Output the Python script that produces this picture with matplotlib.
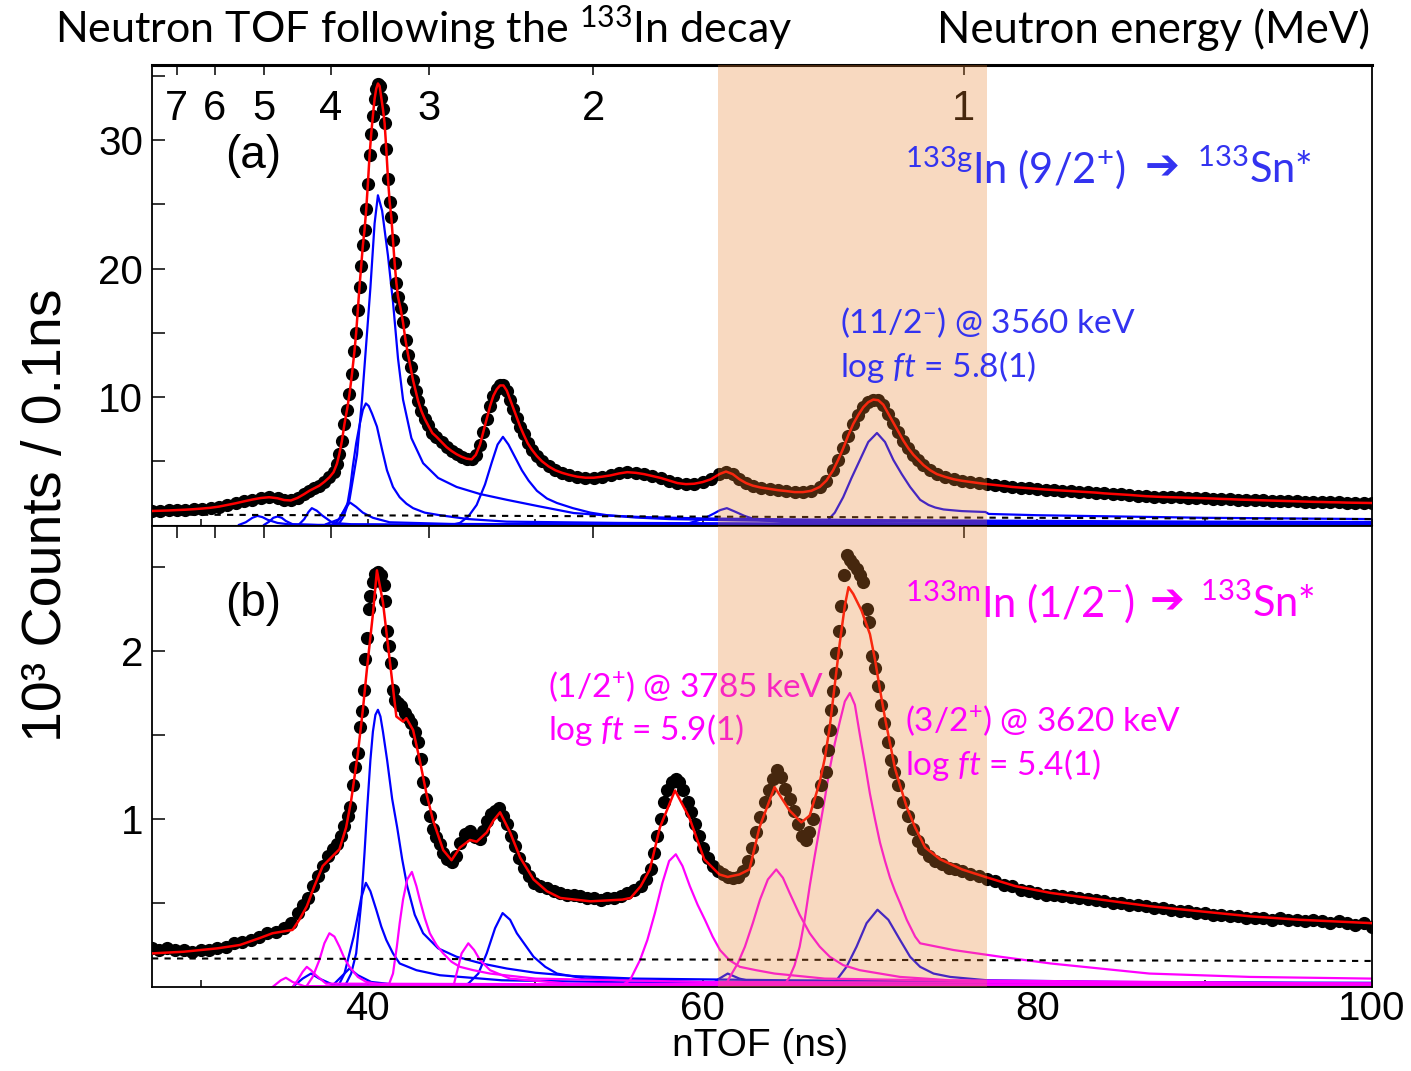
import numpy as np
import matplotlib
matplotlib.use("Agg")
import matplotlib.pyplot as plt
from matplotlib.ticker import NullLocator, NullFormatter

W, H = 1411, 1071

plt.rcParams['font.family'] = ['Liberation Sans', 'DejaVu Sans']
plt.rcParams['mathtext.fontset'] = 'custom'
plt.rcParams['mathtext.rm'] = 'Lato'
plt.rcParams['mathtext.it'] = 'Lato:italic'
plt.rcParams['mathtext.fallback'] = 'stixsans'

# ---------------- values ----------------
tof_1mev = 75.6                 # ns, flight time of a 1 MeV neutron
energy_ticks = [7, 6, 5, 4, 3, 2, 1]
shade_lo, shade_hi = 60.9, 77.0

# panel (a): 133gIn, 10^3 counts / 0.1 ns
a_tof = [27.1, 27.6, 28.1, 28.6, 29.1, 29.6, 30.1, 30.6, 31.1, 31.6, 32.1, 32.6, 33.1, 33.6,
         34.1, 34.6, 35.0, 35.4, 35.8, 36.2, 36.5, 36.8, 37.1, 37.4, 37.7, 37.95, 38.15, 38.3,
         38.45, 38.6, 38.75, 38.9, 39.05, 39.2, 39.3, 39.4, 39.5, 39.6, 39.7, 39.8, 39.9, 40.0,
         40.1, 40.2, 40.3, 40.4, 40.5, 40.6, 40.7, 40.8, 40.9, 41.0, 41.1, 41.2, 41.3, 41.4,
         41.5, 41.6, 41.7, 41.8, 41.95, 42.1, 42.25, 42.4, 42.55, 42.7, 42.85, 43.0, 43.2, 43.4,
         43.6, 43.85, 44.1, 44.4, 44.7, 45.0, 45.3, 45.6, 45.9, 46.2, 46.45, 46.7, 46.9, 47.1,
         47.3, 47.5, 47.7, 47.9, 48.1, 48.3, 48.5, 48.7, 48.9, 49.1, 49.3, 49.55, 49.8, 50.1,
         50.4, 50.8, 51.2, 51.6, 52.0, 52.5, 53.0, 53.5, 54.0, 54.5, 55.0, 55.5, 56.0, 56.5,
         57.0, 57.5, 58.0, 58.5, 59.0, 59.5, 60.0, 60.5, 61.0, 61.4, 61.8, 62.2, 62.6, 63.0,
         63.5, 64.0, 64.5, 65.0, 65.5, 66.0, 66.5, 67.0, 67.4, 67.8, 68.1, 68.4, 68.7, 69.0,
         69.3, 69.6, 69.9, 70.2, 70.5, 70.8, 71.1, 71.4, 71.7, 72.0, 72.3, 72.6, 72.9, 73.2,
         73.6, 74.0, 74.5, 75.0, 75.5, 76.0, 76.5, 77.0, 77.5, 78.0, 78.5, 79.0, 79.5, 80.0,
         80.5, 81.0, 81.5, 82.0, 82.5, 83.0, 83.5, 84.0, 84.5, 85.0, 85.5, 86.0, 86.5, 87.0,
         87.5, 88.0, 88.5, 89.0, 89.5, 90.0, 90.5, 91.0, 91.5, 92.0, 92.5, 93.0, 93.5, 94.0,
         94.5, 95.0, 95.5, 96.0, 96.5, 97.0, 97.5, 98.0, 98.5, 99.0, 99.5, 100.0]
a_counts = [1.13, 1.15, 1.17, 1.2, 1.23, 1.27, 1.32, 1.38, 1.47, 1.6, 1.73, 1.88, 2.02, 2.14,
            2.2, 2.12, 1.98, 1.95, 2.15, 2.45, 2.7, 2.9, 3.1, 3.4, 3.75, 4.15, 4.8, 5.6,
            6.6, 7.9, 9.0, 10.2, 11.8, 13.6, 15.0, 16.8, 18.6, 20.2, 21.8, 23.0, 24.6, 26.6,
            28.8, 30.5, 31.9, 33.2, 34.0, 34.4, 34.2, 33.3, 32.4, 31.3, 29.3, 27.0, 25.2, 24.0,
            22.2, 20.4, 18.9, 17.8, 16.9, 15.8, 14.4, 13.3, 12.3, 11.3, 10.5, 9.7, 8.9, 8.3,
            7.8, 7.2, 6.9, 6.5, 6.1, 5.8, 5.55, 5.35, 5.2, 5.15, 5.5, 6.3, 7.3, 8.3,
            9.3, 10.1, 10.6, 10.9, 10.9, 10.5, 9.8, 9.1, 8.4, 7.7, 7.1, 6.4, 5.9, 5.4,
            5.0, 4.6, 4.3, 4.1, 3.95, 3.8, 3.72, 3.72, 3.8, 3.9, 4.05, 4.15, 4.1, 4.0,
            3.85, 3.7, 3.5, 3.3, 3.22, 3.25, 3.38, 3.6, 4.0, 4.2, 4.0, 3.6, 3.3, 3.1,
            2.95, 2.85, 2.75, 2.68, 2.6, 2.6, 2.7, 3.0, 3.5, 4.3, 5.1, 6.0, 7.0, 7.9,
            8.6, 9.2, 9.6, 9.8, 9.75, 9.4, 8.7, 8.0, 7.3, 6.6, 6.0, 5.5, 5.1, 4.7,
            4.3, 4.0, 3.78, 3.6, 3.48, 3.39, 3.3, 3.22, 3.15, 3.08, 3.0, 2.95, 2.9, 2.85,
            2.8, 2.76, 2.72, 2.68, 2.64, 2.6, 2.56, 2.5, 2.46, 2.42, 2.38, 2.33, 2.28, 2.25,
            2.22, 2.2, 2.18, 2.16, 2.14, 2.12, 2.1, 2.07, 2.05, 2.02, 2.0, 1.98, 1.96, 1.94,
            1.92, 1.9, 1.88, 1.86, 1.84, 1.83, 1.81, 1.8, 1.78, 1.77, 1.76, 1.75]

# fit components of panel (a), each (tof, counts)
a_blue = [
    ([37.5, 38.3, 38.9, 39.35, 39.65, 39.95, 40.15, 40.4, 40.6, 40.85, 41.2, 41.5, 41.8, 42.1,
      42.6, 43.3, 44.2, 45.3, 46.7, 48.3, 50.2, 52.3, 54.3, 56.3, 60, 65, 70, 80, 90, 100],
     [0.1, 0.5, 2.0, 5.5, 9.8, 15.0, 18.5, 23.5, 25.7, 24.5, 21.0, 17.4, 13.0, 9.8,
      6.8, 4.85, 3.7, 3.0, 2.45, 2.0, 1.5, 0.97, 0.78, 0.66, 0.55, 0.48, 0.42, 0.36, 0.3, 0.27]),
    ([38.3, 38.55, 38.75, 38.95, 39.1, 39.3, 39.5, 39.7, 39.88, 40.05, 40.25, 40.54, 40.85,
      41.14, 41.5, 41.9, 42.3, 42.7, 43.4, 44.3, 46, 48.3, 55, 70, 100],
     [0.2, 0.7, 1.45, 3.0, 4.6, 6.4, 7.8, 9.0, 9.5, 9.3, 8.7, 7.7, 5.9,
      4.3, 3.0, 2.2, 1.7, 1.35, 1.0, 0.8, 0.5, 0.3, 0.2, 0.14, 0.1]),
    ([37.9, 38.2, 38.5, 38.92, 39.3, 39.7, 40.3, 41.3, 45, 60, 100],
     [0.05, 0.35, 1.0, 1.8, 1.45, 1.0, 0.6, 0.25, 0.12, 0.08, 0.05]),
    ([35.9, 36.2, 36.45, 36.65, 36.95, 37.25, 37.9, 39, 45, 70, 100],
     [0.1, 0.5, 1.05, 1.35, 1.15, 0.8, 0.2, 0.1, 0.06, 0.04, 0.03]),
    ([32.3, 32.7, 33.1, 33.4, 33.7, 34.0, 34.6, 35.35, 37, 50, 100],
     [0.05, 0.25, 0.6, 0.75, 0.65, 0.45, 0.2, 0.08, 0.04, 0.03, 0.02]),
    ([33.8, 34.1, 34.35, 34.6, 34.85, 35.1, 35.5, 37, 60, 100],
     [0.05, 0.3, 0.6, 0.7, 0.6, 0.35, 0.1, 0.04, 0.03, 0.02]),
    ([45.0, 45.5, 46.0, 46.5, 47.0, 47.4, 47.75, 48.07, 48.4, 48.8, 49.2, 49.6, 50.1, 50.7,
      51.3, 52.25, 53.3, 54.3, 56, 58, 62, 65, 80, 100],
     [0.05, 0.2, 0.7, 1.6, 3.2, 4.9, 6.3, 6.9, 6.3, 5.3, 4.3, 3.5, 2.7, 2.1,
      1.75, 1.35, 1.0, 0.8, 0.62, 0.5, 0.4, 0.35, 0.25, 0.2]),
    ([59.0, 60.1, 60.7, 61.05, 61.45, 61.9, 62.5, 63.2, 65, 75, 100],
     [0.1, 0.55, 0.95, 1.2, 1.35, 1.1, 0.75, 0.45, 0.25, 0.12, 0.08]),
    ([66.8, 67.4, 67.9, 68.4, 68.9, 69.4, 69.9, 70.42, 70.9, 71.4, 71.9, 72.4, 73.0, 73.5,
      73.9, 74.4, 74.8, 75.5, 76.9, 77.1, 80, 85, 90, 100],
     [0.05, 0.3, 1.0, 2.2, 3.7, 5.1, 6.5, 7.2, 6.5, 5.1, 4.0, 3.0, 2.0, 1.6,
      1.4, 1.25, 1.2, 1.12, 1.05, 0.9, 0.8, 0.7, 0.6, 0.5]),
]
a_bg_tof = [27.1, 100.0]
a_bg = [0.85, 0.5]

# panel (b): 133mIn
b_tof = [27.1, 27.5, 28.0, 28.5, 29.0, 29.5, 30.0, 30.5, 31.0, 31.5, 32.0, 32.5, 33.0, 33.5,
         34.0, 34.5, 35.0, 35.4, 35.8, 36.1, 36.4, 36.7, 37.0, 37.3, 37.6, 37.9, 38.15, 38.4,
         38.6, 38.8, 38.95, 39.1, 39.25, 39.4, 39.55, 39.65, 39.75, 39.85, 39.95, 40.05, 40.15,
         40.3, 40.45, 40.6, 40.8, 40.95, 41.05, 41.12, 41.25, 41.38, 41.5, 41.65, 41.8, 42.0,
         42.2, 42.4, 42.6, 42.8, 43.0, 43.15, 43.3, 43.5, 43.7, 43.9, 44.1, 44.3, 44.5, 44.75,
         45.0, 45.25, 45.5, 45.8, 46.1, 46.4, 46.7, 46.9, 47.1, 47.35, 47.6, 47.85, 48.1, 48.3,
         48.55, 48.8, 49.05, 49.3, 49.6, 49.9, 50.3, 50.7, 51.1, 51.5, 51.9, 52.3, 52.7, 53.1,
         53.5, 53.9, 54.3, 54.7, 55.1, 55.5, 55.9, 56.3, 56.6, 56.9, 57.1, 57.3, 57.5, 57.7,
         57.9, 58.15, 58.4, 58.6, 58.85, 59.1, 59.3, 59.55, 59.8, 60.05, 60.3, 60.6, 60.9, 61.2,
         61.5, 61.8, 62.1, 62.4, 62.7, 62.95, 63.2, 63.45, 63.7, 63.95, 64.2, 64.45, 64.7, 64.95,
         65.2, 65.45, 65.7, 65.95, 66.15, 66.35, 66.6, 66.85, 67.1, 67.35, 67.5, 67.6, 67.7, 67.8,
         67.9, 68.0, 68.15, 68.3, 68.45, 68.6, 68.8, 69.0, 69.2, 69.4, 69.6, 69.8, 69.95, 70.1,
         70.3, 70.5, 70.65, 70.85, 71.05, 71.25, 71.45, 71.7, 72.0, 72.3, 72.6, 72.9, 73.2, 73.5,
         73.9, 74.3, 74.7, 75.1, 75.5, 76.0, 76.5, 77.0, 77.5, 78.0, 78.5, 79.0, 79.5, 80.0,
         80.5, 81.0, 81.5, 82.0, 82.5, 83.0, 83.5, 84.0, 84.5, 85.0, 85.5, 86.0, 86.5, 87.0,
         87.5, 88.0, 88.5, 89.0, 89.5, 90.0, 90.5, 91.0, 91.5, 92.0, 92.5, 93.0, 93.5, 94.0,
         94.5, 95.0, 95.5, 96.0, 96.5, 97.0, 97.5, 98.0, 98.5, 99.0, 99.5, 100.0]
b_counts = [0.23, 0.22, 0.23, 0.22, 0.22, 0.21, 0.22, 0.22, 0.23, 0.24, 0.26, 0.27, 0.28, 0.3,
            0.32, 0.33, 0.35, 0.38, 0.44, 0.49, 0.53, 0.6, 0.66, 0.72, 0.78, 0.82, 0.85, 0.9,
            0.96, 1.02, 1.07, 1.2, 1.31, 1.39, 1.55, 1.64, 1.77, 1.95, 2.08, 2.25, 2.33,
            2.41, 2.46, 2.47, 2.45, 2.39, 2.3, 2.12, 2.03, 1.93, 1.77, 1.71, 1.69, 1.67,
            1.63, 1.6, 1.57, 1.52, 1.46, 1.36, 1.22, 1.12, 1.02, 0.94, 0.89, 0.85, 0.8, 0.76,
            0.745, 0.78, 0.86, 0.91, 0.93, 0.89, 0.88, 0.93, 0.99, 1.03, 1.05, 1.065, 1.02, 0.97,
            0.9, 0.84, 0.77, 0.71, 0.66, 0.62, 0.6, 0.59, 0.57, 0.56, 0.55, 0.55, 0.54, 0.53,
            0.53, 0.52, 0.53, 0.53, 0.54, 0.56, 0.58, 0.6, 0.64, 0.7, 0.8, 0.9, 1.0, 1.1,
            1.17, 1.22, 1.24, 1.22, 1.17, 1.1, 1.04, 0.97, 0.9, 0.83, 0.77, 0.72, 0.69, 0.67,
            0.655, 0.65, 0.655, 0.69, 0.75, 0.83, 0.92, 1.01, 1.1, 1.17, 1.24, 1.29, 1.25, 1.18,
            1.12, 1.05, 0.97, 0.9, 0.875, 0.92, 1.0, 1.1, 1.2, 1.28, 1.41, 1.53, 1.65, 1.76,
            1.87, 1.99, 2.12, 2.27, 2.45, 2.57, 2.54, 2.52, 2.49, 2.45, 2.41, 2.25, 2.17, 1.97,
            1.9, 1.79, 1.68, 1.57, 1.46, 1.35, 1.28, 1.2, 1.1, 1.02, 0.94, 0.87, 0.82, 0.78,
            0.75, 0.73, 0.71, 0.7, 0.69, 0.67, 0.66, 0.645, 0.63, 0.61, 0.6, 0.58, 0.57, 0.56,
            0.55, 0.545, 0.54, 0.535, 0.53, 0.525, 0.52, 0.51, 0.5, 0.5, 0.49, 0.49, 0.48, 0.47,
            0.47, 0.46, 0.45, 0.45, 0.44, 0.44, 0.43, 0.43, 0.42, 0.42, 0.41, 0.41, 0.41, 0.4,
            0.41, 0.4, 0.4, 0.39, 0.4, 0.39, 0.38, 0.39, 0.38, 0.37, 0.38, 0.36]

b_fit_tof = [27.1, 29.0, 31.0, 32.35, 33.5, 34.3, 35.5, 35.9, 36.35, 36.8, 37.3, 37.7, 38.3, 38.7,
             39.0, 39.4, 39.7, 39.94, 40.3, 40.54, 40.9, 41.3, 41.7, 42.1, 42.3, 42.7, 43.1, 43.5,
             43.9, 44.5, 45.0, 45.5, 46.1, 46.5, 47.1, 47.5, 47.9, 48.5, 49.1, 49.9, 50.7, 51.5,
             53.3, 55.2, 55.7, 56.3, 56.85, 57.45, 58.35, 59.2, 60.1, 61.0, 61.5, 62.2, 62.8, 63.4,
             64.3, 65.2, 65.9, 66.4, 67.0, 67.3, 67.6, 67.9, 68.2, 68.5, 68.72, 69.0, 69.5, 70.0,
             70.3, 70.6, 70.9, 71.2, 71.5, 71.8, 72.2, 72.7, 73.3, 74.2, 75.5, 76.9, 78.7, 80.8,
             83.8, 86.8, 89.8, 92.8, 95.7, 100.0]
b_fit = [0.2, 0.21, 0.23, 0.25, 0.29, 0.32, 0.34, 0.4, 0.48, 0.6, 0.72, 0.76, 0.82, 0.95,
         1.11, 1.39, 1.65, 1.89, 2.22, 2.48, 2.29, 1.95, 1.61, 1.58, 1.6, 1.53, 1.35, 1.15,
         0.99, 0.815, 0.755, 0.83, 0.875, 0.865, 0.92, 0.99, 1.04, 0.92, 0.77, 0.64, 0.57, 0.53,
         0.51, 0.52, 0.53, 0.6, 0.7, 0.95, 1.17, 1.01, 0.76, 0.67, 0.655, 0.67, 0.7, 0.95,
         1.19, 1.05, 0.98, 1.02, 1.22, 1.36, 1.55, 1.8, 2.05, 2.27, 2.38, 2.34, 2.24, 2.1,
         1.95, 1.77, 1.6, 1.45, 1.3, 1.2, 1.07, 0.95, 0.83, 0.76, 0.7, 0.655, 0.6, 0.56,
         0.52, 0.48, 0.45, 0.42, 0.4, 0.38]

b_blue = [
    ([38.6, 39.0, 39.3, 39.6, 39.8, 39.95, 40.15, 40.3, 40.45, 40.6, 40.75, 40.9, 41.15, 41.45,
      41.75, 42.05, 42.35, 42.8, 43.3, 44.2, 45.3, 46.8, 48.3, 50, 52.3, 56, 65, 80, 100],
     [0.0, 0.08, 0.2, 0.5, 0.8, 1.05, 1.35, 1.52, 1.62, 1.65, 1.61, 1.52, 1.35, 1.12,
      0.95, 0.76, 0.6, 0.43, 0.32, 0.23, 0.18, 0.14, 0.11, 0.085, 0.065, 0.05, 0.04, 0.03, 0.025]),
    ([38.2, 38.6, 38.9, 39.15, 39.35, 39.6, 39.88, 40.15, 40.5, 40.8, 41.1, 41.5, 41.9, 42.4,
      42.9, 44.3, 48, 60, 100],
     [0.0, 0.08, 0.2, 0.3, 0.4, 0.53, 0.62, 0.57, 0.46, 0.36, 0.28, 0.2, 0.14, 0.12,
      0.1, 0.07, 0.04, 0.02, 0.01]),
    ([37.8, 38.4, 38.9, 39.4, 40.2, 42, 100],
     [0.0, 0.06, 0.11, 0.07, 0.03, 0.01, 0.005]),
    ([35.5, 36.1, 36.6, 37.1, 38, 100],
     [0.0, 0.05, 0.08, 0.05, 0.01, 0.005]),
    ([45.3, 46.0, 46.6, 47.1, 47.6, 48.05, 48.5, 48.9, 49.4, 49.9, 50.6, 51.3, 53, 60, 100],
     [0.0, 0.02, 0.08, 0.2, 0.35, 0.44, 0.4, 0.32, 0.25, 0.18, 0.12, 0.08, 0.05, 0.03, 0.015]),
    ([60.3, 61.0, 61.5, 62.2, 63.5, 70, 100],
     [0.0, 0.05, 0.08, 0.05, 0.02, 0.01, 0.005]),
    ([67.5, 68.0, 68.6, 69.2, 69.8, 70.45, 71.1, 71.8, 72.4, 73.0, 73.8, 74.8, 77, 85, 100],
     [0.0, 0.04, 0.12, 0.24, 0.38, 0.46, 0.4, 0.28, 0.18, 0.12, 0.08, 0.06, 0.04, 0.03, 0.02]),
]
b_magenta = [
    ([36.3, 36.7, 37.1, 37.4, 37.7, 38.0, 38.3, 38.6, 38.9, 39.4, 39.9, 41, 100],
     [0.0, 0.06, 0.16, 0.26, 0.32, 0.3, 0.24, 0.17, 0.12, 0.06, 0.03, 0.01, 0.005]),
    ([35.5, 35.8, 36.1, 36.35, 36.6, 36.9, 37.5, 100],
     [0.0, 0.04, 0.09, 0.12, 0.1, 0.07, 0.02, 0.005]),
    ([34.3, 34.8, 35.1, 35.5, 36.2, 100],
     [0.0, 0.04, 0.055, 0.03, 0.005, 0.002]),
    ([41.2, 41.5, 41.73, 41.9, 42.1, 42.35, 42.63, 42.9, 43.1, 43.4, 43.7, 44.1, 44.5, 45.0,
      45.5, 46.3, 47.3, 50, 60, 100],
     [0.0, 0.08, 0.24, 0.38, 0.52, 0.64, 0.685, 0.6, 0.52, 0.41, 0.32, 0.25, 0.2, 0.15,
      0.12, 0.1, 0.08, 0.05, 0.03, 0.02]),
    ([45.1, 45.35, 45.6, 46.0, 46.35, 46.7, 47.3, 48.5, 52, 100],
     [0.0, 0.1, 0.2, 0.26, 0.22, 0.16, 0.1, 0.05, 0.02, 0.01]),
    ([55.0, 55.66, 56.26, 56.7, 57.15, 57.6, 58.0, 58.4, 58.8, 59.24, 59.7, 60.14, 60.6, 61.04,
      61.6, 62.23, 63.2, 64.3, 67.3, 80, 100],
     [0.0, 0.04, 0.16, 0.28, 0.44, 0.62, 0.75, 0.79, 0.72, 0.6, 0.49, 0.4, 0.3, 0.22,
      0.16, 0.12, 0.1, 0.08, 0.05, 0.03, 0.02]),
    ([61.3, 61.63, 62.1, 62.53, 63.0, 63.43, 63.9, 64.4, 64.8, 65.2, 65.8, 66.4, 67.0, 67.6,
      68.4, 69.4, 71.8, 74.8, 100],
     [0.0, 0.06, 0.14, 0.24, 0.38, 0.52, 0.64, 0.7, 0.65, 0.56, 0.43, 0.32, 0.24, 0.18,
      0.13, 0.1, 0.06, 0.04, 0.02]),
    ([64.8, 65.2, 65.5, 65.8, 66.1, 66.4, 66.7, 67.0, 67.3, 67.6, 67.9, 68.2, 68.5, 68.8,
      69.1, 69.4, 69.7, 70.0, 70.3, 70.6, 70.9, 71.2, 71.5, 71.8, 72.2, 72.7, 73.0, 75,
      77.8, 80.8, 86.7, 92.7, 100],
     [0.0, 0.06, 0.13, 0.24, 0.4, 0.6, 0.78, 0.95, 1.12, 1.3, 1.45, 1.58, 1.7, 1.75,
      1.68, 1.5, 1.33, 1.15, 1.0, 0.86, 0.75, 0.65, 0.57, 0.5, 0.4, 0.3, 0.26, 0.22,
      0.18, 0.14, 0.08, 0.06, 0.05]),
]
b_bg_tof = [27.1, 100.0]
b_bg = [0.17, 0.155]


def tof_to_energy(t):
    t = np.asarray(t, dtype=float)
    return (tof_1mev / np.clip(t, 1e-3, None)) ** 2


def energy_to_tof(e):
    e = np.asarray(e, dtype=float)
    return tof_1mev / np.sqrt(np.clip(e, 1e-6, None))


def fxy(x, y):
    # pixel position -> figure fraction
    return x / W, 1 - y / H


blue = '#0000FF'
magenta = '#FF00FF'
shade = (233 / 255, 132 / 255, 48 / 255)
txt_blue = '#3333F0'

fig = plt.figure(figsize=(W / 100, H / 100), dpi=100, facecolor='white')
left, width = 152 / W, (1372 - 152) / W
ax1 = fig.add_axes([left, 1 - 525.5 / H, width, 460.5 / H])
ax2 = fig.add_axes([left, 1 - 987 / H, width, 461.5 / H], sharex=ax1)

# ---- panel (a)
for t, y in a_blue:
    ax1.plot(t, y, color=blue, lw=1.6, zorder=2)
ax1.plot(a_bg_tof, a_bg, color='black', lw=1.5, ls=(0, (3, 3)), zorder=2.2)
ax1.plot(a_tof, a_counts, 'o', color='black', ms=9.5, mec='none', zorder=3)
ax1.plot(a_tof, a_counts, color='red', lw=1.8, zorder=4)
ax1.set_ylim(0, 35.84)
ax1.set_yticks([10, 20, 30])
ax1.set_yticks([5, 15, 25, 35], minor=True)

# ---- panel (b)
for t, y in b_blue:
    ax2.plot(t, y, color=blue, lw=1.6, zorder=2)
for t, y in b_magenta:
    ax2.plot(t, y, color=magenta, lw=1.6, zorder=2.1)
ax2.plot(b_bg_tof, b_bg, color='black', lw=1.5, ls=(0, (3, 3)), zorder=2.2)
ax2.plot(b_tof, b_counts, 'o', color='black', ms=9.5, mec='none', zorder=3)
ax2.plot(b_fit_tof, b_fit, color='red', lw=1.8, zorder=4)
ax2.set_ylim(0, 2.747)
ax2.set_yticks([1, 2])
ax2.set_yticks([0.5, 1.5, 2.5], minor=True)

ax2.set_xlim(27.1, 100)
ax2.set_xticks([40, 60, 80, 100])
ax2.set_xticks([30, 50, 70, 90], minor=True)

for ax in (ax1, ax2):
    ax.axvspan(shade_lo, shade_hi, color=shade, alpha=0.3, lw=0, zorder=6)
    ax.tick_params(axis='both', which='both', direction='in', labelsize=29, width=1.1)
    ax.tick_params(axis='y', which='both', length=9, pad=6.5)
    ax.tick_params(axis='x', which='both', length=5, pad=2.5, top=False)
    for s in ax.spines.values():
        s.set_linewidth(1.3)
ax1.tick_params(axis='x', labelbottom=False)

# neutron energy scale along the top of both panels
sec1 = ax1.secondary_xaxis('top', functions=(tof_to_energy, energy_to_tof))
sec1.set_xticks(energy_ticks)
sec1.xaxis.set_minor_locator(NullLocator())
sec1.tick_params(axis='x', direction='in', length=7, width=1.1, pad=-46, labelsize=30)
sec1.spines['top'].set_linewidth(2.2)

sec2 = ax2.secondary_xaxis('top', functions=(tof_to_energy, energy_to_tof))
sec2.set_xticks(energy_ticks)
sec2.xaxis.set_minor_locator(NullLocator())
sec2.xaxis.set_major_formatter(NullFormatter())
sec2.tick_params(axis='x', direction='in', length=9.5, width=1.1)

# axis titles
fig.text(*fxy(47, 515), '10³ Counts / 0.1ns', rotation=90, ha='center', va='center', fontsize=40)
fig.text(*fxy(760, 1028), 'nTOF (ns)', ha='center', va='top', fontsize=28)
fig.text(*fxy(55, 43), 'Neutron TOF following the $^{133}$In decay', family='Lato',
         fontsize=31, ha='left', va='baseline')
fig.text(*fxy(1370, 43), 'Neutron energy (MeV)', family='Lato', fontsize=31.5,
         ha='right', va='baseline')

ax1.text(*fxy(225, 168), '(a)', transform=fig.transFigure, fontsize=33, zorder=7)
ax2.text(*fxy(225, 616), '(b)', transform=fig.transFigure, fontsize=33, zorder=7)

# annotations, panel (a)
ax1.text(*fxy(905, 183), r'$^{\mathrm{133g}}$In (9/2$^{+}$)', transform=fig.transFigure,
         family='Lato', fontsize=30, color=txt_blue, zorder=7)
ax1.text(*fxy(1162, 167), '➔', transform=fig.transFigure, family='DejaVu Sans',
         fontsize=30, color=txt_blue, ha='center', va='center', zorder=7)
ax1.text(*fxy(1197, 183), r'$^{133}$Sn*', transform=fig.transFigure,
         family='Lato', fontsize=30, color=txt_blue, zorder=7)
ax1.text(*fxy(840, 333), r'(11/2$^{-}$) @ 3560 keV', transform=fig.transFigure,
         family='Lato', fontsize=24, color=txt_blue, zorder=7)
ax1.text(*fxy(840, 377), r'log $ft$ = 5.8(1)', transform=fig.transFigure,
         family='Lato', fontsize=24, color=txt_blue, zorder=7)

# annotations, panel (b)
ax2.text(*fxy(905, 617), r'$^{\mathrm{133m}}$In (1/2$^{-}$)', transform=fig.transFigure,
         family='Lato', fontsize=30, color=magenta, zorder=7)
ax2.text(*fxy(1167, 601), '➔', transform=fig.transFigure, family='DejaVu Sans',
         fontsize=30, color=magenta, ha='center', va='center', zorder=7)
ax2.text(*fxy(1200, 617), r'$^{133}$Sn*', transform=fig.transFigure,
         family='Lato', fontsize=30, color=magenta, zorder=7)
ax2.text(*fxy(548, 697), r'(1/2$^{+}$) @ 3785 keV', transform=fig.transFigure,
         family='Lato', fontsize=24, color=magenta, zorder=5)
ax2.text(*fxy(548, 740), r'log $ft$ = 5.9(1)', transform=fig.transFigure,
         family='Lato', fontsize=24, color=magenta, zorder=5)
ax2.text(*fxy(905, 731), r'(3/2$^{+}$) @ 3620 keV', transform=fig.transFigure,
         family='Lato', fontsize=24, color=magenta, zorder=7)
ax2.text(*fxy(905, 775), r'log $ft$ = 5.4(1)', transform=fig.transFigure,
         family='Lato', fontsize=24, color=magenta, zorder=7)

fig.savefig('out.png', dpi=100, facecolor='white')
